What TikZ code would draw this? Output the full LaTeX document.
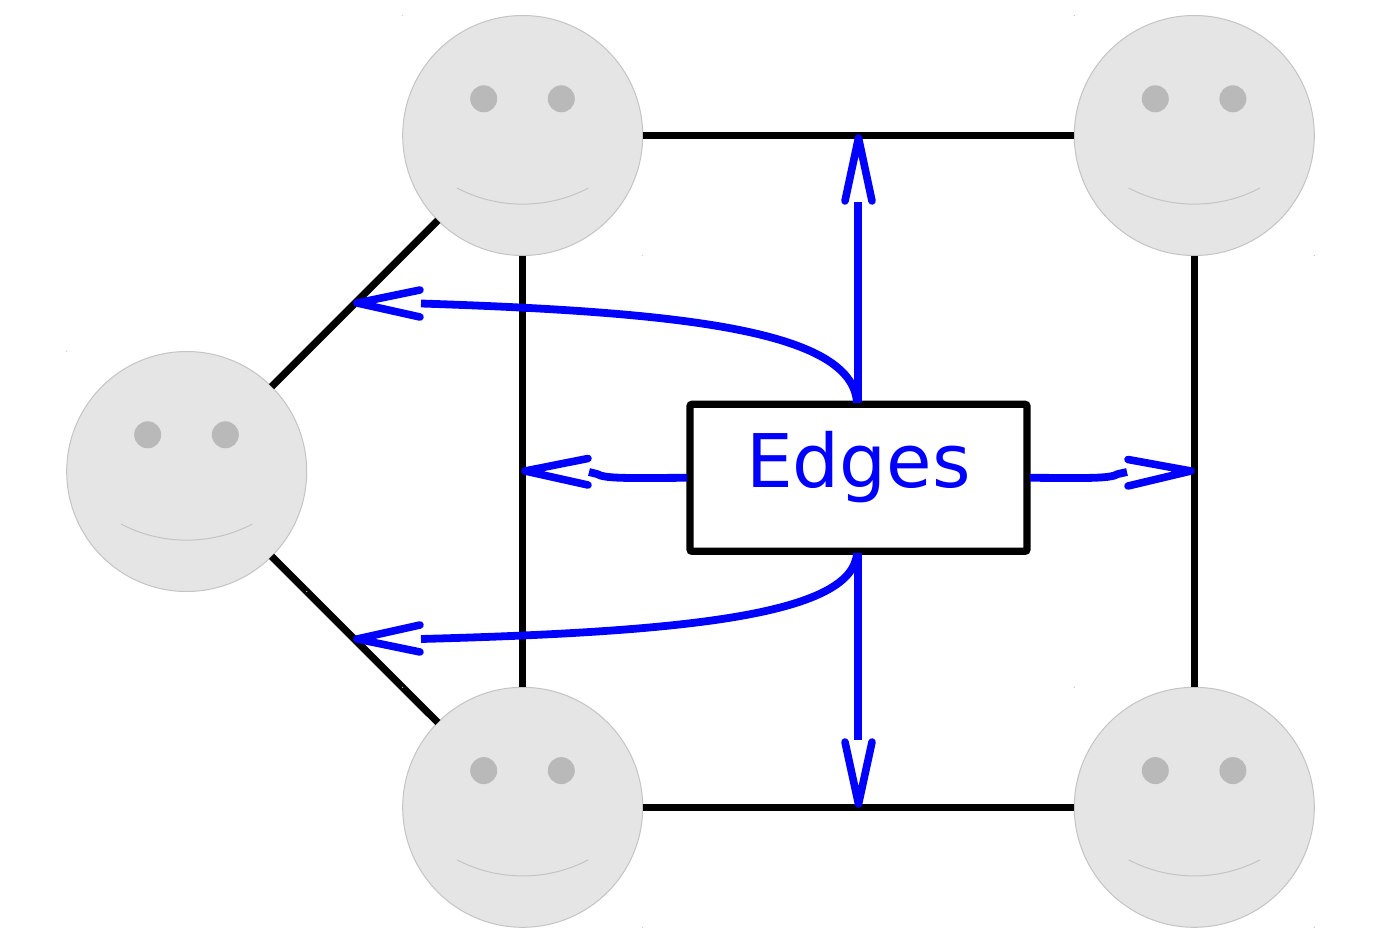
\documentclass[tikz,border=0pt]{standalone}
\usepackage{fontspec}
\setmainfont{DejaVu Sans}
\tikzset{
  x=1pt,y=-1pt,
  face/.style={circle,draw=facerim,fill=facefill,line width=1pt,minimum size=240pt,inner sep=0pt,outer sep=0pt},
  link/.style={draw=black,line width=7.2pt},
  label box/.style={draw=black,fill=white,line width=7.2pt,rounded corners=2pt,inner sep=0pt,outer sep=0pt,
    minimum width=337pt,text height=83pt,text depth=64pt,text=blue,font=\fontsize{74}{80}\selectfont},
  pointer/.style={draw=blue,line width=7.8pt},
  barb/.style={draw=blue,line width=7.6pt,line cap=round,line join=round},
  eye/.style={fill=eyegray},
  smile/.style={draw=facerim,line width=1pt},
  speck/.style={fill=facerim},
}
\definecolor{facefill}{HTML}{E5E5E5}
\definecolor{facerim}{HTML}{C4C4C4}
\definecolor{eyegray}{HTML}{B9B9B9}
\begin{document}
\begin{tikzpicture}
\useasboundingbox (0,0) rectangle (1400,952);
\fill[white] (0,0) rectangle (1400,952);
% faces
\node[face] (l) at (186.7,471.5) {};
\node[face] (tl) at (522.7,135.5) {};
\node[face] (tr) at (1194.3,135.5) {};
\node[face] (bl) at (522.7,807.3) {};
\node[face] (br) at (1194.3,807.3) {};
% black edges
\draw[link] (l) -- (tl);
\draw[link] (l) -- (bl);
\draw[link] (tl) -- (tr);
\draw[link] (tl) -- (bl);
\draw[link] (tr) -- (br);
\draw[link] (bl) -- (br);
% face details
\foreach \n in {l,tl,tr,bl,br}{
  \fill[eye] ([shift={(-39,-36.7)}]\n.center) circle (13.5);
  \fill[eye] ([shift={(38.6,-36.7)}]\n.center) circle (13.5);
  \draw[smile] ([shift={(-65.7,52.5)}]\n.center) .. controls ([shift={(-25,74)}]\n.center) and ([shift={(25,74)}]\n.center) .. ([shift={(65.7,52.5)}]\n.center);
  \fill[speck] ([shift={(-120,-120)}]\n.center) circle (0.7);
  \fill[speck] ([shift={(120,120)}]\n.center) circle (0.7);
}
% label
\node[label box] (edges) at (858.5,477.8) {Edges};
% targets
\coordinate (up) at (858.5,138);
\coordinate (down) at (858.5,804);
\coordinate (west) at (525,471);
\coordinate (east) at (1191,471);
\coordinate (nw) at (357,303);
\coordinate (sw) at (357,639);
% shafts
\draw[pointer] (edges.north) ++(-0.5,-2) -- ++(0,-200) coordinate (upgap);
\draw[pointer] (edges.south) ++(-0.5,2) -- ++(0,187) coordinate (downgap);
\draw[pointer] (857,403) .. controls (853,330) and (680,312) .. (421,303.5);
\draw[pointer] (857,553) .. controls (853,616) and (680,632) .. (421,639);
\draw[pointer] (edges.west) ++(-3,0) .. controls (630,478) and (605,479) .. (597,474) -- (589,472);
\draw[pointer] (edges.east) ++(3,0) .. controls (1085,478) and (1110,479) .. (1118,474) -- (1127,472);
% heads
\draw[barb] (845,201) -- (up) -- (872,201);
\draw[barb] (845,742) -- (down) -- (872,742);
\draw[barb] (588,458.5) -- (west) -- (588,485);
\draw[barb] (1128,459.5) -- (east) -- (1128,486);
\draw[barb] (420,290) -- (nw) -- (420,317);
\draw[barb] (420,625) -- (sw) -- (420,652);
\end{tikzpicture}
\end{document}
